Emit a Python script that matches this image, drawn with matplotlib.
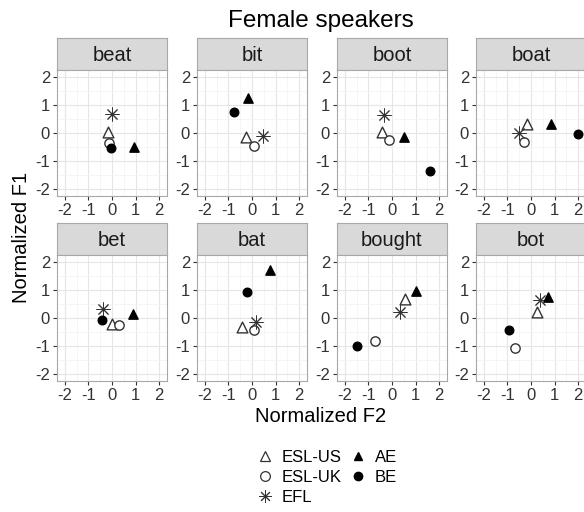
import matplotlib
matplotlib.use('Agg')
import matplotlib.pyplot as plt
from matplotlib.lines import Line2D

plt.rcParams['font.family'] = ['Liberation Sans', 'DejaVu Sans']
plt.rcParams['axes.unicode_minus'] = False

# vowel panels, in facet order
vowels = ['beat', 'bit', 'boot', 'boat', 'bet', 'bat', 'bought', 'bot']

# normalized F2 (x) / F1 (y) per speaker group, one value per vowel
esl_us_f2 = [-0.15, -0.26, -0.42, -0.19, 0.00, -0.44, 0.57, 0.24]
esl_us_f1 = [0.05, -0.15, 0.02, 0.32, -0.20, -0.33, 0.68, 0.20]
esl_uk_f2 = [-0.11, 0.10, -0.14, -0.29, 0.31, 0.10, -0.73, -0.66]
esl_uk_f1 = [-0.36, -0.46, -0.27, -0.32, -0.27, -0.45, -0.84, -1.09]
efl_f2 = [0.00, 0.46, -0.35, -0.51, -0.37, 0.17, 0.36, 0.39]
efl_f1 = [0.67, -0.10, 0.64, 0.00, 0.34, -0.15, 0.22, 0.65]
ae_f2 = [0.95, -0.19, 0.51, 0.86, 0.88, 0.77, 1.00, 0.74]
ae_f1 = [-0.51, 1.27, -0.15, 0.34, 0.13, 1.74, 0.99, 0.74]
be_f2 = [-0.06, -0.76, 1.62, 2.00, -0.41, -0.21, -1.48, -0.94]
be_f1 = [-0.55, 0.75, -1.38, -0.03, -0.06, 0.93, -1.00, -0.45]

ticks = [-2, -1, 0, 1, 2]

W, H = 584, 512
fig = plt.figure(figsize=(W / 100, H / 100), dpi=100)
fig.patch.set_facecolor('white')

# groups: (label, f2, f1, marker, filled, size)
star = (8, 2, 0)
groups = [
    ('ESL-US', esl_us_f2, esl_us_f1, '^', False, 60),
    ('ESL-UK', esl_uk_f2, esl_uk_f1, 'o', False, 45),
    ('EFL', efl_f2, efl_f1, star, False, 90),
    ('AE', ae_f2, ae_f1, '^', True, 45),
    ('BE', be_f2, be_f1, 'o', True, 38),
]

col_left = [57, 197, 337, 476]
row_top = [38, 223]
pw, strip_h, ph = 110, 32, 126


def px_axes(l, t, w, h):
    return fig.add_axes([l / W, 1 - (t + h) / H, w / W, h / H])


border = '#A8A8A8'
for i, v in enumerate(vowels):
    r, c = divmod(i, 4)
    l, t = col_left[c], row_top[r]

    sax = px_axes(l, t, pw, strip_h)
    sax.set_facecolor('#D9D9D9')
    sax.set_xticks([])
    sax.set_yticks([])
    for sp in sax.spines.values():
        sp.set_color(border)
        sp.set_linewidth(0.8)
    sax.text(0.5, 0.45, v, ha='center', va='center', fontsize=14.5,
             color='#1A1A1A', transform=sax.transAxes)

    ax = px_axes(l, t + strip_h, pw, ph)
    ax.set_xlim(-2.34, 2.34)
    ax.set_ylim(-2.27, 2.27)
    ax.set_xticks(ticks)
    ax.set_yticks(ticks)
    ax.set_xticks([-1.5, -0.5, 0.5, 1.5], minor=True)
    ax.set_yticks([-1.5, -0.5, 0.5, 1.5], minor=True)
    ax.grid(which='major', color='#E6E6E6', linewidth=0.8, zorder=0)
    ax.grid(which='minor', color='#F2F2F2', linewidth=0.5, zorder=0)
    ax.set_axisbelow(True)
    ax.tick_params(which='major', length=3, width=0.8, color='#333333',
                   labelsize=12, labelcolor='#333333', pad=2)
    ax.tick_params(which='minor', length=0)
    for sp in ax.spines.values():
        sp.set_color(border)
        sp.set_linewidth(0.8)

    for name, f2, f1, m, filled, s in groups:
        if filled:
            ax.scatter(f2[i], f1[i], marker=m, s=s, color='black', zorder=3)
        elif m == star:
            ax.scatter(f2[i], f1[i], marker=m, s=s, color='#333333',
                       linewidths=0.7, zorder=3)
        else:
            ax.scatter(f2[i], f1[i], marker=m, s=s, facecolors='white',
                       edgecolors='#333333', linewidths=1.0, zorder=3)

fig.text(321 / W, 1 - 21 / H, 'Female speakers', ha='center', va='center',
         fontsize=17.5, color='black')
fig.text(321 / W, 1 - 416 / H, 'Normalized F2', ha='center', va='center',
         fontsize=14.5, color='black')
fig.text(22 / W, 1 - 237 / H, 'Normalized F1', ha='center', va='center',
         rotation=90, fontsize=14.5, color='black')

handles = []
for name, f2, f1, m, filled, s in groups:
    if filled:
        h = Line2D([], [], linestyle='none', marker=m, markersize=6,
                   color='black')
    elif m == star:
        h = Line2D([], [], linestyle='none', marker=m, markersize=9,
                   color='#333333', markeredgewidth=0.7)
    else:
        h = Line2D([], [], linestyle='none', marker=m, markersize=7,
                   markerfacecolor='none', markeredgecolor='#333333',
                   markeredgewidth=0.9)
    handles.append(h)
fig.legend(handles, [g[0] for g in groups], ncol=2, loc='center',
           bbox_to_anchor=(327 / W, 1 - 477 / H), frameon=False,
           fontsize=12, handlelength=1.0, handletextpad=0.5,
           columnspacing=0.5, labelspacing=0.3, borderpad=0)

fig.savefig('out.png', dpi=100, facecolor='white')
